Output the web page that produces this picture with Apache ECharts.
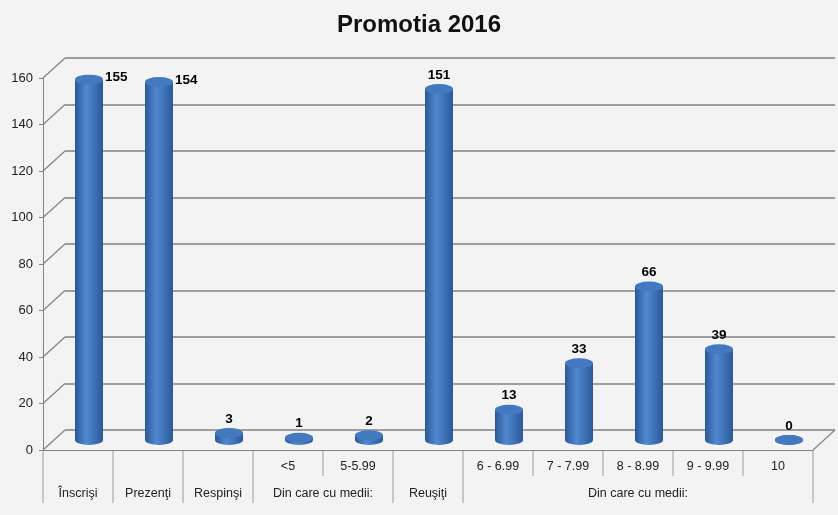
<!DOCTYPE html>
<html>
<head>
    <meta charset="utf-8">
    <script src="https://cdn.jsdelivr.net/npm/echarts@6/dist/echarts.min.js"></script>
    <style>
        html, body { margin: 0; padding: 0; background: #f3f3f3; }
    </style>
</head>
<body>
<div id="main" style="width: 838px;height:515px;"></div>
<script type="text/javascript">
    // date
    var values = [155, 154, 3, 1, 2, 151, 13, 33, 66, 39, 0];
    var subLabels = ['', '', '', '<5', '5-5.99', '', '6 - 6.99', '7 - 7.99', '8 - 8.99', '9 - 9.99', '10'];
    var groupNames = ['Înscrişi', 'Prezenţi', 'Respinşi', 'Din care cu medii:', 'Reuşiţi', 'Din care cu medii:'];
    var groupSpans = [1, 1, 1, 2, 1, 5];
    var yMin = 0, yMax = 160, yStep = 20;
    var labelRight = [true, true, false, false, false, false, false, false, false, false, false];

    var font = 'Liberation Sans, Arial, sans-serif';
    var lineGray = '#828282';

    var myChart = echarts.init(document.getElementById('main'));

    var bodyColor = new echarts.graphic.LinearGradient(0, 0, 1, 0, [
        { offset: 0, color: '#2a5896' },
        { offset: 0.4, color: '#5188d0' },
        { offset: 1, color: '#2b5999' }
    ]);

    var topData = values.map(function (v, i) {
        var d = { value: [i, v] };
        if (labelRight[i]) {
            d.label = { position: 'right', distance: 2, offset: [0, -2] };
        }
        return d;
    });
    var bottomData = values.map(function (v, i) { return [i, 0]; });

    function yAxisBase(idx, show) {
        return {
            type: 'value', gridIndex: idx, min: yMin, max: yMax, interval: yStep,
            axisLine: { show: show, lineStyle: { color: lineGray } },
            axisTick: { show: show, length: 4, lineStyle: { color: lineGray } },
            axisLabel: { show: show, color: '#222', fontFamily: font, fontSize: 13, margin: 10 },
            splitLine: { show: false }
        };
    }

    var backY = yAxisBase(1, false);
    backY.splitLine = { show: true, lineStyle: { color: lineGray, width: 1.6 } };

    var option = {
        backgroundColor: '#f3f3f3',
        title: {
            text: 'Promotia 2016', left: 'center', top: 8,
            textStyle: { fontFamily: font, fontSize: 24, fontWeight: 'bold', color: '#111' }
        },
        grid: [
            { left: 43, right: 25, top: 78, bottom: 65 },   // fata
            { left: 65, right: 3, top: 58, bottom: 85 },    // perete spate
            { left: 54, right: 14, top: 68, bottom: 75 }    // planul cilindrilor
        ],
        xAxis: [
            {
                type: 'category', gridIndex: 0, data: subLabels,
                axisLine: { lineStyle: { color: lineGray } },
                axisTick: { show: false },
                axisLabel: { interval: 0, color: '#222', fontFamily: font, fontSize: 12.5, margin: 10 }
            },
            { type: 'category', gridIndex: 1, data: subLabels, show: false },
            { type: 'category', gridIndex: 2, data: subLabels, show: false }
        ],
        yAxis: [yAxisBase(0, true), backY, yAxisBase(2, false)],
        series: [
            {
                type: 'bar', xAxisIndex: 2, yAxisIndex: 2, data: values,
                barWidth: 28, itemStyle: { color: bodyColor }, z: 2
            },
            {
                type: 'scatter', xAxisIndex: 2, yAxisIndex: 2, data: bottomData,
                symbol: 'circle', symbolSize: [28, 10], itemStyle: { color: bodyColor, opacity: 1 }, z: 1
            },
            {
                type: 'scatter', xAxisIndex: 2, yAxisIndex: 2, data: topData,
                symbol: 'circle', symbolSize: [28, 10], itemStyle: { color: '#4279c0', opacity: 1 }, z: 3,
                label: {
                    show: true, position: 'top', distance: 2,
                    color: '#000', fontFamily: font, fontSize: 13.5, fontWeight: 'bold'
                }
            }
        ]
    };

    myChart.setOption(option);

    // linii de legatura si etichete de grup, calculate din axe
    function buildGraphics() {
        var els = [];
        var c0 = myChart.convertToPixel({ xAxisIndex: 0 }, 0);
        var c1 = myChart.convertToPixel({ xAxisIndex: 0 }, 1);
        var band = c1 - c0;
        var frontLeft = c0 - band / 2;
        var backLeft = myChart.convertToPixel({ xAxisIndex: 1 }, 0) - band / 2;
        var n = values.length;
        var frontRight = frontLeft + band * n;
        var backRight = backLeft + band * n;
        var y0 = myChart.convertToPixel({ yAxisIndex: 0 }, 0);
        var yb0 = myChart.convertToPixel({ yAxisIndex: 1 }, 0);

        for (var v = yMin; v <= yMax; v += yStep) {
            els.push({
                type: 'line', silent: true,
                shape: {
                    x1: frontLeft, y1: myChart.convertToPixel({ yAxisIndex: 0 }, v),
                    x2: backLeft, y2: myChart.convertToPixel({ yAxisIndex: 1 }, v)
                },
                style: { stroke: lineGray, lineWidth: 1.2 }
            });
        }
        els.push({
            type: 'line', silent: true,
            shape: { x1: frontRight, y1: y0, x2: backRight, y2: yb0 },
            style: { stroke: lineGray, lineWidth: 1.2 }
        });

        // separatoare
        var start = 0;
        var bounds = [0];
        groupSpans.forEach(function (s) { start += s; bounds.push(start); });
        for (var b = 0; b <= n; b++) {
            var full = bounds.indexOf(b) >= 0;
            els.push({
                type: 'line', silent: true,
                shape: { x1: frontLeft + band * b, y1: y0, x2: frontLeft + band * b, y2: y0 + (full ? 53 : 26) },
                style: { stroke: '#9a9a9a', lineWidth: 1 }
            });
        }
        // etichete de grup
        for (var g = 0; g < groupNames.length; g++) {
            var mid = frontLeft + band * (bounds[g] + groupSpans[g] / 2);
            els.push({
                type: 'text', silent: true, x: mid, y: y0 + 44,
                style: {
                    text: groupNames[g], fill: '#222', font: '12.5px ' + font,
                    align: 'center', verticalAlign: 'middle'
                }
            });
        }
        myChart.setOption({ graphic: els });
    }
    buildGraphics();
</script>
</body>
</html>
